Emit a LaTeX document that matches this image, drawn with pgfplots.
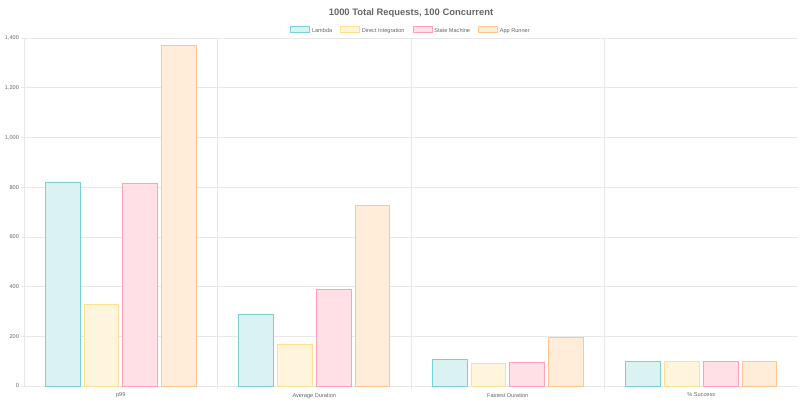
\documentclass[border=0pt]{standalone}
\usepackage{pgfplots}
\pgfplotsset{compat=1.18}
\usepackage{fontspec}
\setmainfont{Liberation Sans}

\definecolor{lam}{RGB}{75,192,192}
\definecolor{dir}{RGB}{255,205,86}
\definecolor{sm}{RGB}{255,99,132}
\definecolor{ar}{RGB}{255,159,64}
\definecolor{txt}{RGB}{102,102,102}
\definecolor{gridc}{RGB}{232,232,232}

\begin{document}
\begin{tikzpicture}
\path[use as bounding box] (-24pt,-24pt) rectangle (776pt,386pt);
\begin{axis}[
    scale only axis,
    width=774pt,
    height=348pt,
    ymin=0, ymax=1400,
    ytick={0,200,...,1400},
    xmin=-0.5, xmax=3.5,
    xtick={0,1,2,3},
    xticklabels={p99, Average Duration, Fastest Duration, \% Success},
    minor xtick={0.5,1.5,2.5},
    ymajorgrids, xminorgrids,
    grid style={gridc, line width=0.6pt},
    minor grid style={gridc, line width=0.6pt},
    axis x line*=bottom,
    axis y line*=left,
    axis line style={gridc, line width=0.8pt},
    tick align=outside,
    major tick length=3pt,
    minor tick length=3pt,
    tick style={gridc, line width=0.6pt},
    major x tick style={draw=none},
    tick label style={font=\fontsize{5.6}{6.5}\selectfont, text=txt},
    yticklabel style={xshift=1.5pt},
    xticklabel style={yshift=-0.5pt},
    /pgf/number format/assume math mode=true,
    /pgf/number format/1000 sep={,},
    title={\bfseries 1000 Total Requests, 100 Concurrent},
    title style={font=\fontsize{9.4}{11}\selectfont, text=txt, at={(0.5,1)}, anchor=center, yshift=19pt},
    legend style={at={(0.5,1)}, anchor=center, yshift=7pt, draw=none, fill=none,
        font=\fontsize{5.6}{6.5}\selectfont, text=txt, legend columns=4,
        /tikz/every even column/.append style={column sep=6pt}},
    legend image code/.code={
        \draw[#1] (0pt,-1pt) rectangle (19pt,5pt);
    },
]

\addplot[ybar, bar width=0.18, bar shift=-0.3, draw=lam!75, fill=lam!20, line width=0.7pt]
    coordinates {(0,820) (1,290) (2,107) (3,100)};
\addlegendentry{Lambda}

\addplot[ybar, bar width=0.18, bar shift=-0.1, draw=dir!65, fill=dir!20, line width=0.7pt]
    coordinates {(0,330) (1,169) (2,90) (3,100)};
\addlegendentry{Direct Integration}

\addplot[ybar, bar width=0.18, bar shift=0.1, draw=sm!60, fill=sm!20, line width=0.7pt]
    coordinates {(0,815) (1,390) (2,97) (3,100)};
\addlegendentry{State Machine}

\addplot[ybar, bar width=0.18, bar shift=0.3, draw=ar!60, fill=ar!20, line width=0.7pt]
    coordinates {(0,1370) (1,728) (2,197) (3,100)};
\addlegendentry{App Runner}

\end{axis}
\end{tikzpicture}
\end{document}
